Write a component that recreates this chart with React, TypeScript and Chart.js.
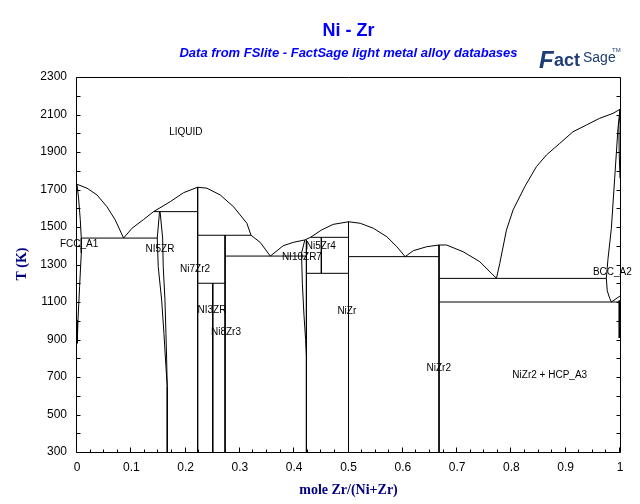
import { useEffect, useRef } from "react";
import { Chart, registerables } from "chart.js";

Chart.register(...registerables);

type Pt = [number, number];

// ---- axis ticks ----
const X_TICKS = [0, 0.1, 0.2, 0.3, 0.4, 0.5, 0.6, 0.7, 0.8, 0.9, 1];
const Y_TICKS = [300, 500, 700, 900, 1100, 1300, 1500, 1700, 1900, 2100, 2300];

// ---- phase boundaries (x = mole Zr/(Ni+Zr), T in K) ----
const LIQ_NI: Pt[] = [[0, 1728], [0.0184, 1707], [0.0368, 1671], [0.0552, 1608], [0.0705, 1537], [0.0858, 1441]];
const LIQ_NI7ZR2: Pt[] = [[0.0858, 1441], [0.1012, 1493], [0.1226, 1540], [0.141, 1582], [0.1717, 1635], [0.1962, 1683], [0.2222, 1712]];
const LIQ_NI7ZR2_EUT: Pt[] = [[0.2222, 1712], [0.2392, 1707], [0.2637, 1671], [0.2883, 1608], [0.3128, 1520], [0.3205, 1456], [0.3374, 1418], [0.356, 1345]];
const LIQ_NIZR: Pt[] = [[0.356, 1345], [0.3797, 1400], [0.3981, 1418], [0.4196, 1431], [0.43, 1445], [0.4503, 1484], [0.4717, 1514], [0.5, 1528]];
const LIQ_NIZR2: Pt[] = [[0.5, 1528], [0.5215, 1520], [0.546, 1493], [0.5706, 1448], [0.589, 1395], [0.6043, 1342], [0.6196, 1374], [0.6442, 1395], [0.6667, 1404]];
const LIQ_NIZR2_EUT: Pt[] = [[0.6667, 1404], [0.6806, 1404], [0.7111, 1368], [0.7418, 1315], [0.7725, 1226]];
const LIQ_ZR: Pt[] = [[0.7725, 1226], [0.7786, 1306], [0.7909, 1484], [0.8031, 1591], [0.8246, 1715], [0.8461, 1822], [0.8645, 1884], [0.889, 1946], [0.9135, 2008], [0.9381, 2044], [0.9626, 2080], [0.9871, 2106], [1, 2128]];

const FCC_SOLIDUS: Pt[] = [[0, 1728], [0.003, 1650], [0.006, 1540], [0.0079, 1441]];
const FCC_SOLVUS: Pt[] = [[0.0079, 1441], [0.0079, 1361], [0.0048, 1182], [0.0018, 1004], [0.0005, 880]];

const NI5ZR_LEFT: Pt[] = [[0.152, 1582], [0.1478, 1441], [0.1496, 1288], [0.1559, 1111], [0.1601, 933], [0.1638, 755], [0.1662, 648]];
const NI5ZR_RIGHT: Pt[] = [[0.153, 1582], [0.1577, 1441], [0.1588, 1288], [0.162, 1111], [0.1638, 933], [0.1651, 791], [0.1662, 648]];
const NI5ZR_LINE: Pt[] = [[0.1662, 648], [0.1662, 300]];

const EUT_NI_NI5ZR: Pt[] = [[0.0079, 1441], [0.1478, 1441]];
const PERI_NI7ZR2: Pt[] = [[0.141, 1582], [0.2222, 1582]];
const NI7ZR2_LINE: Pt[] = [[0.2222, 1712], [0.2222, 300]];
const PERI_NI8ZR3: Pt[] = [[0.2222, 1456], [0.3205, 1456]];
const NI8ZR3_LINE: Pt[] = [[0.2727, 1456], [0.2727, 300]];
const PERI_NI3ZR: Pt[] = [[0.2222, 1200], [0.2727, 1200]];
const NI3ZR_LINE: Pt[] = [[0.25, 1200], [0.25, 300]];
const EUT_NI8ZR3: Pt[] = [[0.2727, 1345], [0.4225, 1345]];
const NI10ZR7_LINE: Pt[] = [[0.4225, 1431], [0.4225, 300]];
const NI10ZR7_LENS: Pt[] = [[0.4196, 1431], [0.4135, 1360], [0.415, 1200], [0.418, 1030], [0.421, 900], [0.4225, 820]];
const NI5ZR4_TOP: Pt[] = [[0.43, 1445], [0.5, 1445]];
const NI11ZR9_LINE: Pt[] = [[0.45, 1445], [0.45, 1253]];
const NI5ZR4_BOTTOM: Pt[] = [[0.4225, 1253], [0.5, 1253]];
const NIZR_LINE: Pt[] = [[0.5, 1528], [0.5, 300]];
const EUT_NIZR: Pt[] = [[0.5, 1342], [0.6667, 1342]];
const NIZR2_LINE: Pt[] = [[0.6667, 1404], [0.6667, 300]];
const EUT_NIZR2: Pt[] = [[0.6667, 1226], [0.9748, 1226]];
const EUTECTOID: Pt[] = [[0.6667, 1100], [1, 1100]];
const BCC_LEFT: Pt[] = [[1, 2128], [0.9963, 2026], [0.9902, 1760], [0.9841, 1493], [0.9779, 1330], [0.9748, 1226], [0.9765, 1160], [0.981, 1120], [0.9841, 1100]];
const BCC_HCP: Pt[] = [[0.9841, 1100], [1, 1132]];
const BCC_SOLIDUS: Pt[] = [[1, 2128], [0.998, 2040], [0.9985, 1900], [1, 1760]];
const HCP_SOLVUS: Pt[] = [[0.999, 1110], [0.999, 908]];

const THIN_LINES: Pt[][] = [
  LIQ_NI, LIQ_NI7ZR2, LIQ_NI7ZR2_EUT, LIQ_NIZR, LIQ_NIZR2, LIQ_NIZR2_EUT, LIQ_ZR,
  FCC_SOLIDUS, FCC_SOLVUS, NI5ZR_LEFT, NI5ZR_RIGHT, NI5ZR_LINE,
  EUT_NI_NI5ZR, PERI_NI7ZR2, NI7ZR2_LINE, PERI_NI8ZR3, NI8ZR3_LINE, PERI_NI3ZR, NI3ZR_LINE,
  EUT_NI8ZR3, NI10ZR7_LINE, NI10ZR7_LENS, NI5ZR4_TOP, NI11ZR9_LINE, NI5ZR4_BOTTOM,
  NIZR_LINE, EUT_NIZR, NIZR2_LINE, EUT_NIZR2, EUTECTOID, BCC_LEFT, BCC_HCP, BCC_SOLIDUS,
];
const THICK_LINES: Pt[][] = [HCP_SOLVUS];

// ---- region labels ----
const LABEL_TEXT = ["LIQUID", "FCC_A1", "NI5ZR", "Ni7Zr2", "NI3ZR", "Ni8Zr3", "NI10ZR7", "Ni5Zr4", "NiZr", "NiZr2", "NiZr2 + HCP_A3", "BCC_A2"];
const LABEL_X = [0.2006, 0.004, 0.1527, 0.2175, 0.2485, 0.2743, 0.4142, 0.4491, 0.4969, 0.6662, 0.8706, 0.9859];
const LABEL_T = [2007, 1409, 1383, 1276, 1057, 940, 1340, 1399, 1052, 748, 711, 1260];

const SANS = "'Liberation Sans', Arial, sans-serif";
const SERIF = "'Liberation Serif', 'Times New Roman', serif";

const decor = {
  id: "decor",
  afterDraw(chart: any) {
    const { ctx, scales } = chart;
    const xs = scales.x;
    const ys = scales.y;
    const l = Math.round(xs.getPixelForValue(0)) - 0.5;
    const r = Math.round(xs.getPixelForValue(1)) + 0.5;
    const t = Math.round(ys.getPixelForValue(2300)) + 0.5;
    const b = Math.round(ys.getPixelForValue(300)) + 0.5;
    ctx.save();
    ctx.strokeStyle = "#000";
    ctx.lineWidth = 1;
    ctx.beginPath();
    ctx.rect(l, t, r - l, b - t);
    for (let v = 300; v <= 2300; v += 100) {
      const py = Math.round(ys.getPixelForValue(v)) + 0.5;
      ctx.moveTo(l, py); ctx.lineTo(l + 4, py);
      ctx.moveTo(r, py); ctx.lineTo(r - 4, py);
    }
    for (let i = 0; i <= 40; i++) {
      const px = Math.round(xs.getPixelForValue(i / 40)) - 0.5;
      const len = i % 4 === 0 ? 5 : 3;
      ctx.moveTo(px, b); ctx.lineTo(px, b - len);
    }
    ctx.stroke();

    ctx.fillStyle = "#000";
    ctx.font = `10px ${SANS}`;
    ctx.textAlign = "center";
    ctx.textBaseline = "middle";
    LABEL_TEXT.forEach((s, i) => {
      ctx.fillText(s, xs.getPixelForValue(LABEL_X[i]), ys.getPixelForValue(LABEL_T[i]));
    });

    ctx.fillStyle = "#000080";
    ctx.font = `bold 14px ${SERIF}`;
    ctx.fillText("mole Zr/(Ni+Zr)", (l + r) / 2, 490);
    ctx.save();
    ctx.translate(22, 264);
    ctx.rotate(-Math.PI / 2);
    ctx.fillText("T (K)", 0, 0);
    ctx.restore();

    ctx.textAlign = "left";
    ctx.textBaseline = "alphabetic";
    ctx.fillStyle = "#1d3c78";
    ctx.font = `bold italic 24px ${SANS}`;
    ctx.fillText("F", 539, 68);
    ctx.font = `bold 18px ${SANS}`;
    ctx.fillText("act", 554, 66);
    ctx.font = `14px 'Liberation Sans Narrow', ${SANS}`;
    ctx.fillText("Sage", 583, 62);
    ctx.font = `6px ${SANS}`;
    ctx.fillText("TM", 612, 52);
    ctx.restore();
  },
};

export default function App() {
  const ref = useRef<HTMLCanvasElement>(null);
  useEffect(() => {
    const datasets = [
      ...THIN_LINES.map((pts) => ({ pts, w: 1 })),
      ...THICK_LINES.map((pts) => ({ pts, w: 2 })),
    ].map(({ pts, w }) => ({
      data: pts.map(([x, y]) => ({ x, y })),
      showLine: true,
      borderColor: "#000",
      backgroundColor: "#000",
      borderWidth: w,
      pointRadius: 0,
      fill: false,
      tension: 0,
    }));
    const chart = new Chart(ref.current!, {
      type: "scatter",
      data: { datasets },
      plugins: [decor],
      options: {
        animation: false,
        responsive: false,
        devicePixelRatio: 1,
        layout: { padding: { left: 0, right: 20, top: 0, bottom: 0 } },
        plugins: {
          legend: { display: false },
          tooltip: { enabled: false },
          title: {
            display: true,
            text: "Ni - Zr",
            color: "#0000FF",
            fullSize: false,
            font: { family: SANS, size: 18, weight: "bold" },
            padding: { top: 20, bottom: 0 },
          },
          subtitle: {
            display: true,
            text: "Data from FSlite - FactSage light metal alloy databases",
            color: "#0000FF",
            fullSize: false,
            font: { family: SANS, size: 13, weight: "bold", style: "italic" },
            padding: { top: 4, bottom: 15.8 },
          },
        },
        scales: {
          x: {
            type: "linear",
            min: 0,
            max: 1,
            grid: { display: false },
            border: { display: false },
            afterBuildTicks: (s: any) => { s.ticks = X_TICKS.map((v) => ({ value: v })); },
            afterFit: (s: any) => { s.height = 52; },
            ticks: {
              color: "#000",
              padding: 0,
              maxRotation: 0,
              autoSkip: false,
              font: { family: SANS, size: 12 },
              callback: (v: any) => String(Number(Number(v).toFixed(2))),
            },
          },
          y: {
            type: "linear",
            min: 300,
            max: 2300,
            grid: { display: false },
            border: { display: false },
            afterBuildTicks: (s: any) => { s.ticks = Y_TICKS.map((v) => ({ value: v })); },
            afterFit: (s: any) => { s.width = 77; },
            ticks: {
              color: "#000",
              padding: 2,
              autoSkip: false,
              font: { family: SANS, size: 12 },
              callback: (v: any) => String(v),
            },
          },
        },
      } as any,
    });
    return () => chart.destroy();
  }, []);
  return (
    <div style={{ position: "absolute", left: 0, top: 0, width: 640, height: 504, background: "#fff" }}>
      <canvas ref={ref} width={640} height={504} style={{ display: "block", width: 640, height: 504 }} />
    </div>
  );
}
